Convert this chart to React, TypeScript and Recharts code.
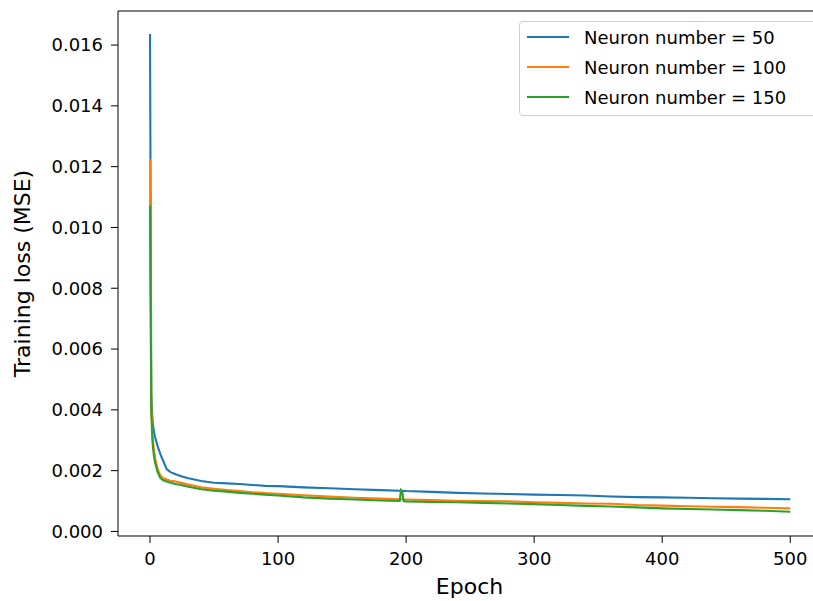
import { Legend, Line, LineChart, ReferenceLine, XAxis, YAxis } from 'recharts';

const epochs = [
  0, 1, 2, 3, 4, 6, 8, 10, 13, 16, 20, 25, 30, 40, 50, 60, 70, 80, 90, 100, 120, 140, 160, 180, 195, 196,
  197, 198, 200, 220, 240, 260, 280, 300, 320, 340, 360, 380, 400, 420, 440, 460, 480, 500,
];

const loss50 = [
  0.01636, 0.0045, 0.0036, 0.0033, 0.0031, 0.0028, 0.00255, 0.00235, 0.00205, 0.00195, 0.00188, 0.00181,
  0.00175, 0.00166, 0.0016, 0.00158, 0.00156, 0.00153, 0.0015, 0.00149, 0.00145, 0.00142, 0.00139, 0.00136,
  0.00134, 0.00134, 0.00133, 0.00134, 0.00133, 0.0013, 0.00127, 0.00125, 0.00123, 0.00121, 0.0012, 0.00118,
  0.00115, 0.00113, 0.00112, 0.00111, 0.00109, 0.00108, 0.00107, 0.00106,
];

const loss100 = [
  0.01225, 0.0042, 0.0031, 0.0027, 0.0024, 0.00205, 0.00184, 0.00176, 0.00171, 0.00167, 0.00164, 0.00159,
  0.00154, 0.00145, 0.0014, 0.00136, 0.00133, 0.00129, 0.00126, 0.00124, 0.00119, 0.00115, 0.00111, 0.00108,
  0.00106, 0.00106, 0.00106, 0.00105, 0.00105, 0.00103, 0.00101, 0.001, 0.00099, 0.00096, 0.00094, 0.00092,
  0.00091, 0.00087, 0.00085, 0.00083, 0.00081, 0.0008, 0.00078, 0.00076,
];

const loss150 = [
  0.01072, 0.0039, 0.0029, 0.0025, 0.00225, 0.00195, 0.00176, 0.00169, 0.00164, 0.0016, 0.00156, 0.00152,
  0.00147, 0.00139, 0.00134, 0.00131, 0.00127, 0.00124, 0.00121, 0.00118, 0.00112, 0.00108, 0.00105, 0.00102,
  0.001, 0.00136, 0.00131, 0.001, 0.00099, 0.00097, 0.00096, 0.00094, 0.00092, 0.0009, 0.00087, 0.00084,
  0.00082, 0.00079, 0.00076, 0.00074, 0.00072, 0.0007, 0.00068, 0.00065,
];

const seriesNames = ['Neuron number = 50', 'Neuron number = 100', 'Neuron number = 150'];
const xTicks = [0, 100, 200, 300, 400, 500];
const yTicks = [0, 0.002, 0.004, 0.006, 0.008, 0.01, 0.012, 0.014, 0.016];
const xDomain = [-25, 524];
const yDomain = [-0.00015, 0.01712];

const data = epochs.map((e, i) => ({ epoch: e, n50: loss50[i], n100: loss100[i], n150: loss150[i] }));

const font = 'DejaVu Sans, sans-serif';

function LegendBox({ payload }: any) {
  const items = [...(payload || [])].sort(
    (a: any, b: any) => seriesNames.indexOf(a.value) - seriesNames.indexOf(b.value),
  );
  return (
    <div
      style={{
        border: '1px solid #d0d0d0',
        borderRadius: 4,
        background: 'rgba(255,255,255,0.8)',
        padding: '0 0 3px 7px',
        fontFamily: font,
        fontSize: 18,
        color: '#000',
      }}
    >
      {items.map((p: any) => (
        <div key={p.value} style={{ display: 'flex', alignItems: 'center', height: 30 }}>
          <div style={{ width: 42, height: 2.5, background: p.color, marginRight: 15 }} />
          <span>{p.value}</span>
        </div>
      ))}
    </div>
  );
}

export default function App() {
  return (
    <div
      style={{ position: 'absolute', left: 0, top: 0, width: 813, height: 601, overflow: 'hidden', background: '#fff' }}
    >
      <LineChart width={821} height={601} data={data} margin={{ top: 11, right: 0, left: 0, bottom: 0 }}>
        <XAxis
          dataKey="epoch"
          type="number"
          domain={xDomain}
          ticks={xTicks}
          allowDataOverflow
          height={65}
          tickSize={7}
          tickMargin={9}
          stroke="#000"
          tick={{ fill: '#000', fontSize: 18, fontFamily: font }}
          label={{ value: 'Epoch', position: 'center', dy: 18, style: { fontSize: 22, fontFamily: font, fill: '#000' } }}
        />
        <YAxis
          type="number"
          domain={yDomain}
          ticks={yTicks}
          allowDataOverflow
          width={118}
          tickSize={7}
          tickMargin={8}
          stroke="#000"
          tickFormatter={(v: number) => v.toFixed(3)}
          tick={{ fill: '#000', fontSize: 18, fontFamily: font }}
          label={{
            value: 'Training loss (MSE)',
            angle: -90,
            position: 'center',
            dx: -37,
            style: { fontSize: 22, fontFamily: font, fill: '#000' },
          }}
        />
        <ReferenceLine y={yDomain[1]} stroke="#000" strokeWidth={1} ifOverflow="visible" />
        <Legend
          layout="vertical"
          align="center"
          verticalAlign="middle"
          wrapperStyle={{ left: 519, top: 21, width: 300 }}
          content={<LegendBox />}
        />
        <Line dataKey="n50" name={seriesNames[0]} stroke="#1f77b4" strokeWidth={2.1} dot={false} isAnimationActive={false} />
        <Line dataKey="n100" name={seriesNames[1]} stroke="#ff7f0e" strokeWidth={2.1} dot={false} isAnimationActive={false} />
        <Line dataKey="n150" name={seriesNames[2]} stroke="#2ca02c" strokeWidth={2.1} dot={false} isAnimationActive={false} />
      </LineChart>
    </div>
  );
}
